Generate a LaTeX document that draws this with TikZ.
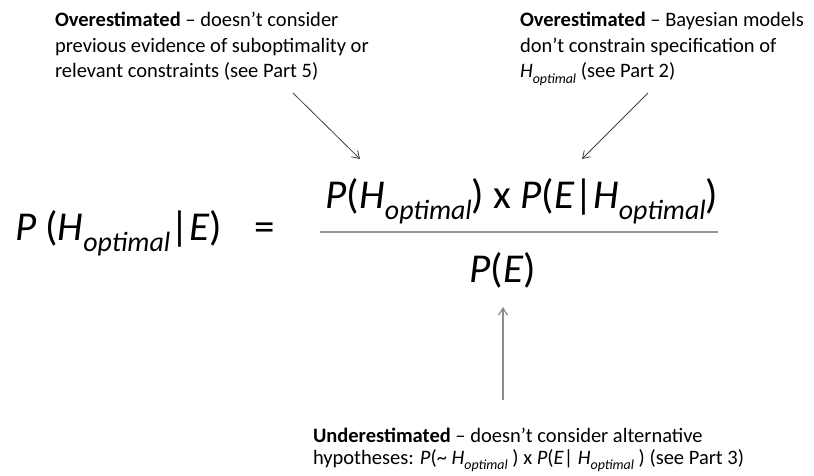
\documentclass[tikz,border=0pt]{standalone}
\usepackage{fontspec}
\setmainfont{Carlito}
\usetikzlibrary{positioning,calc,arrows.meta}

% lowered subscript, as in the slide
\newcommand{\low}[1]{\raisebox{-0.29em}{\scalebox{0.68}{\itshape #1}}}
\newcommand{\Hopt}{\textit{H}\low{optimal}}

\begin{document}
\begin{tikzpicture}[
    x=1pt, y=-1pt,
    every node/.style={inner sep=0pt, outer sep=0pt},
    big/.style={font=\fontsize{41}{48}\selectfont},
    note/.style={font=\fontsize{20.5}{25.5}\selectfont, align=left},
    lownote/.style={font=\fontsize{20.5}{22}\selectfont, align=left},
    fracbar/.style={draw=gray!85, line width=1.6pt},
    arrow/.style={-{Straight Barb[length=7pt, width=9pt]}, draw=black!75, line width=0.8pt},
    uparrow/.style={-{Straight Barb[length=7pt, width=9pt]}, draw=gray!90, line width=1.2pt},
]
\useasboundingbox (0,0) rectangle (814,476);

% Bayes rule
\node[big, anchor=base west] (lhs) at (15,240) {\textit{P} (\Hopt|\textit{E})};
\node[big, anchor=base] (eq) at (265,240) {=};
\node[big, anchor=base] (num) at (522,208) {\textit{P}(\Hopt) x \textit{P}(\textit{E}|\Hopt)};
\node[big, anchor=base] (den) at (503,282) {\textit{P}(\textit{E})};
\coordinate (barL) at (320,232);
\coordinate (barR) at (718,232);
\draw[fracbar] (barL) -- (barR);

% Comments (base = last line)
\node[note, anchor=base west] (noteL) at (55,78) {\textbf{Overestimated} -- doesn’t consider\\previous evidence of suboptimality or\\relevant constraints (see Part 5)};
\node[note, anchor=base west] (noteR) at (520,78) {\textbf{Overestimated} -- Bayesian models\\don’t constrain specification of\\\Hopt{} (see Part 2)};
\node[lownote, anchor=base west] (noteB) at (313,464) {\textbf{Underestimated} -- doesn’t consider alternative\\hypotheses: \textit{P}(\textasciitilde{} \Hopt{} ) x \textit{P}(\textit{E}| \Hopt{} ) (see Part 3)};

% Arrows
\coordinate (tailL) at (293,93);
\coordinate (tipL) at (360,159);
\coordinate (tailR) at (648,93);
\coordinate (tipR) at (582,159);
\coordinate (tailB) at (503,400);
\coordinate (tipB) at (503,307);
\draw[arrow] (tailL) -- (tipL);
\draw[arrow] (tailR) -- (tipR);
\draw[uparrow] (tailB) -- (tipB);

\end{tikzpicture}
\end{document}
